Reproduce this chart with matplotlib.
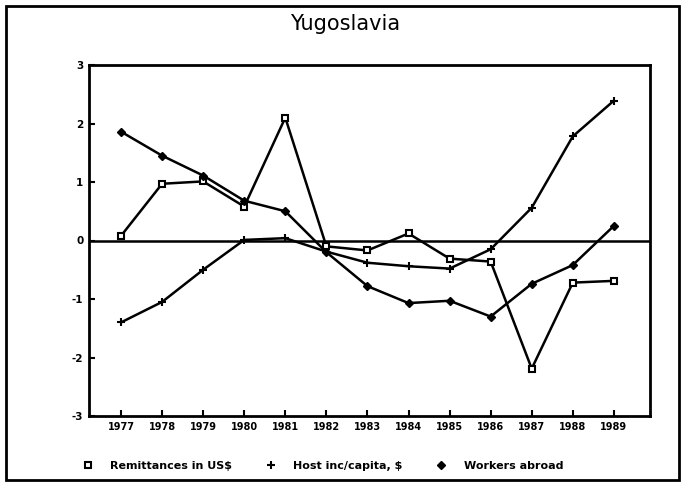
import matplotlib
matplotlib.use("Agg")
import matplotlib.pyplot as plt
from matplotlib.patches import Rectangle

# Values
years = [1977, 1978, 1979, 1980, 1981, 1982, 1983, 1984, 1985, 1986, 1987, 1988, 1989]
remittances = [0.08, 0.97, 1.01, 0.58, 2.10, -0.10, -0.17, 0.12, -0.31, -0.36, -2.19, -0.72, -0.69]
host_income = [-1.40, -1.05, -0.50, 0.01, 0.04, -0.19, -0.38, -0.44, -0.48, -0.15, 0.56, 1.78, 2.39]
workers = [1.86, 1.45, 1.11, 0.68, 0.50, -0.20, -0.78, -1.07, -1.03, -1.30, -0.74, -0.42, 0.25]

series_labels = ["Remittances in US$", "Host inc/capita, $", "Workers abroad"]
y_ticks = [-3, -2, -1, 0, 1, 2, 3]

fig = plt.figure(figsize=(6.91, 4.83), dpi=100)
ax = fig.add_axes([89 / 691, 1 - 416 / 483, (650 - 89) / 691, (416 - 65) / 483])

ax.plot(years, remittances, color="black", lw=1.8, marker="s", ms=5,
        mfc="white", mec="black", mew=1.5, label=series_labels[0])
ax.plot(years, host_income, color="black", lw=1.8, marker="+", ms=6,
        mew=1.5, label=series_labels[1])
ax.plot(years, workers, color="black", lw=1.8, marker="D", ms=4.5,
        mfc="black", mec="black", label=series_labels[2])
ax.axhline(0, color="black", lw=1.8, zorder=1)

ax.set_xlim(1976.22, 1989.88)
ax.set_ylim(-3, 3)
ax.set_xticks(years)
ax.set_xticklabels([str(y) for y in years], fontsize=7, fontweight="bold")
ax.set_yticks(y_ticks)
ax.set_yticklabels([str(v) for v in y_ticks], fontsize=7.5, fontweight="bold")
ax.tick_params(axis="both", direction="in", length=4, width=1.5, pad=4)
for spine in ax.spines.values():
    spine.set_linewidth(2)

fig.text(0.5, 1 - 24 / 483, "Yugoslavia", ha="center", va="center", fontsize=15)

leg = ax.legend(loc="upper left", bbox_to_anchor=(-0.03, -0.10), ncol=3, frameon=False,
                prop={"size": 8, "weight": "bold"}, handlelength=1.0, columnspacing=3.0,
                handletextpad=1.5)
for h in leg.legend_handles:
    h.set_linestyle("none")

# Outer frame around the whole picture
fig.patches.append(Rectangle((6 / 691, 3 / 483), 673 / 691, 474 / 483, fill=False,
                             lw=2, ec="black", transform=fig.transFigure))

fig.savefig("out.png", dpi=100)
